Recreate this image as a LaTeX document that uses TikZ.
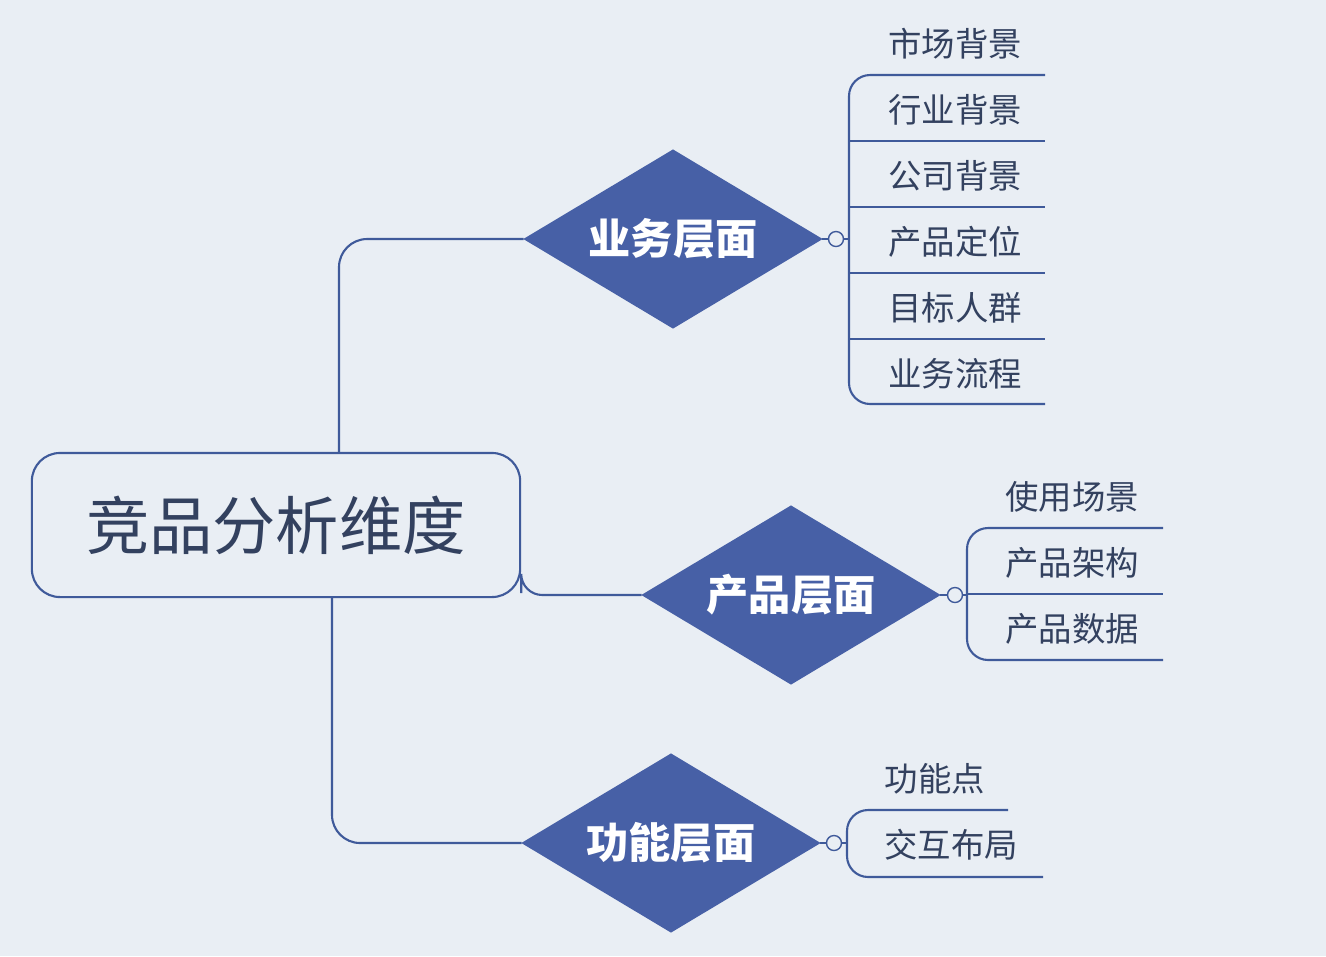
\documentclass[tikz,border=0pt]{standalone}
\usepackage{fontspec}
\newfontfamily\cjk{Noto Sans CJK SC}
\usetikzlibrary{shapes.geometric,positioning}
\definecolor{bgc}{HTML}{E9EEF4}
\definecolor{linec}{HTML}{3F5A9A}
\definecolor{dia}{HTML}{4760A6}
\definecolor{txt}{HTML}{33415F}
\tikzset{
  layer/.style={diamond,fill=dia,draw=dia,minimum width=2.97cm,minimum height=1.78cm,aspect=1.67,inner sep=0pt,text=white,font=\cjk\fontsize{12}{12}\selectfont\bfseries},
  item/.style={text=txt,font=\cjk\fontsize{9.5}{10}\selectfont},
  conn/.style={draw=linec,line width=0.6pt},
  knob/.style={circle,draw=linec,fill=bgc,minimum size=0.15cm,inner sep=0pt}
}
\begin{document}
\begin{tikzpicture}[x=0.01cm,y=-0.01cm]
\fill[bgc] (0,0) rectangle (1326,956);
\useasboundingbox (0,0) rectangle (1326,956);

\node[draw=linec,line width=0.6pt,rounded corners=8pt,minimum width=4.88cm,minimum height=1.44cm,text=txt,font=\cjk\fontsize{18}{18}\selectfont] (root) at (276,525) {竞品分析维度};

\node[layer] (L1) at (673,239) {业务层面};
\node[layer] (L2) at (791,595) {产品层面};
\node[layer] (L3) at (671,843) {功能层面};

\path[conn,rounded corners=8pt] (root.north -| 339,0) |- (L1.west);
\path[conn,rounded corners=6pt] (root.south east) ++(0,-5) |- (L2.west);
\path[conn,rounded corners=8pt] (root.south -| 332,0) |- (L3.west);

% business branch
\node[knob] (k1) at (836,239) {};
\draw[conn] (L1.east) -- (k1);
\draw[conn] (k1) -- (849,239);
\draw[conn,rounded corners=6pt] (1045,75) -- (849,75) -- (849,404) -- (1045,404);
\foreach \y/\t in {110/行业背景,176/公司背景,242/产品定位,308/目标人群}
  \draw[conn] (849,\y+31) -- (1045,\y+31);
\foreach \y/\t [count=\i] in {44/市场背景,110/行业背景,176/公司背景,242/产品定位,308/目标人群,374/业务流程}
  \node[item] (b\i) at (955,\y) {\t};

% product branch
\node[knob] (k2) at (955,595) {};
\draw[conn] (L2.east) -- (k2);
\draw[conn] (k2) -- (967,595);
\draw[conn,rounded corners=6pt] (1163,528) -- (967,528) -- (967,660) -- (1163,660);
\draw[conn] (967,594) -- (1163,594);
\foreach \y/\t [count=\i] in {497/使用场景,563/产品架构,629/产品数据}
  \node[item] (p\i) at (1072,\y) {\t};

% function branch
\node[knob] (k3) at (834,843) {};
\draw[conn] (L3.east) -- (k3);
\draw[conn] (k3) -- (847,843);
\draw[conn,rounded corners=6pt] (1008,810) -- (847,810) -- (847,877) -- (1043,877);
\node[item] (f1) at (935,779) {功能点};
\node[item] (f2) at (951,845) {交互布局};
\end{tikzpicture}
\end{document}
